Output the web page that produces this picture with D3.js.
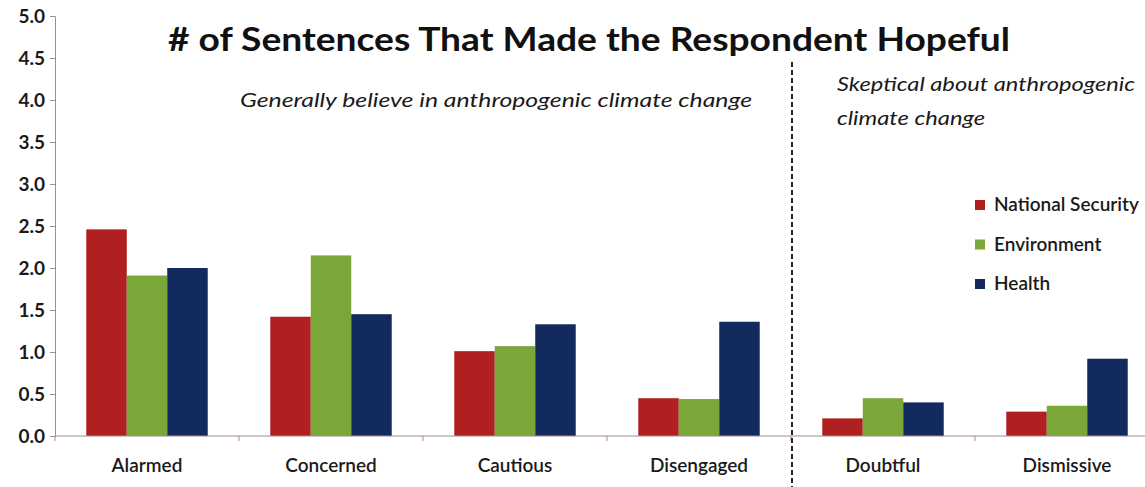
<!DOCTYPE html>
<html><head><meta charset="utf-8">
<script src="https://cdn.jsdelivr.net/npm/d3@7"></script>
<style>body{margin:0;background:#fff;} svg{display:block;font-family:Lato,"Open Sans",sans-serif;}</style>
</head><body>
<svg id="chart" width="1145" height="487"></svg>
<script>
const categories = ["Alarmed","Concerned","Cautious","Disengaged","Doubtful","Dismissive"];
const seriesNames = ["National Security","Environment","Health"];
const nationalSecurity = [2.46,1.42,1.01,0.45,0.21,0.29];
const environment = [1.91,2.15,1.07,0.44,0.45,0.36];
const health = [2.00,1.45,1.33,1.36,0.40,0.92];
const yTicks = [0,0.5,1,1.5,2,2.5,3,3.5,4,4.5,5];
const colors = ["#b02020","#7aa63a","#132a5e"];
const titleText = "# of Sentences That Made the Respondent Hopeful";
const groupBelieve = "Generally believe in anthropogenic climate change";
const groupSkeptic = ["Skeptical about anthropogenic","climate change"];

const values = [nationalSecurity, environment, health];
const svg = d3.select("#chart");
const axisColor = "#a88a8a";

const x0 = d3.scaleBand().domain(categories).range([55, 1159]).paddingInner(0.34).paddingOuter(0.17);
const x1 = d3.scaleBand().domain(seriesNames).range([0, x0.bandwidth()]);
const y = d3.scaleLinear().domain([0,5]).range([436,16]);

// bars
const g = svg.append("g");
categories.forEach((c, ci) => {
  seriesNames.forEach((s, si) => {
    g.append("rect")
      .attr("x", x0(c) + x1(s))
      .attr("y", y(values[si][ci]))
      .attr("width", x1.bandwidth())
      .attr("height", y(0) - y(values[si][ci]))
      .attr("fill", colors[si]);
  });
});

// y axis
const yAxis = svg.append("g").attr("transform","translate(55,0)")
  .call(d3.axisLeft(y).tickValues(yTicks).tickFormat(d3.format(".1f")).tickSize(5).tickPadding(5));
yAxis.select(".domain").attr("stroke", axisColor);
yAxis.selectAll(".tick line").attr("stroke", axisColor);
yAxis.selectAll("text").attr("font-size", 19).attr("font-weight", 700).attr("fill","#1a1a1a")
  .attr("font-family","Lato").attr("dy","0.36em");

// x axis
svg.append("line").attr("x1",55).attr("x2",1159).attr("y1",y(0)).attr("y2",y(0)).attr("stroke",axisColor);
const r0 = x0.range()[0];
d3.range(categories.length+1).forEach(i => {
  const xx = r0 + i*x0.step();
  svg.append("line").attr("x1",xx).attr("x2",xx).attr("y1",y(0)).attr("y2",y(0)+5).attr("stroke",axisColor);
});
svg.selectAll(".xlab").data(categories).enter().append("text")
  .attr("x", d => x0(d) + x0.bandwidth()/2)
  .attr("y", 472)
  .attr("text-anchor","middle")
  .attr("font-size",19).attr("font-weight",600).attr("fill","#1a1a1a")
  .attr("font-family","Lato")
  .text(d => d);

// divider
svg.append("line").attr("x1",792).attr("x2",792).attr("y1",62).attr("y2",487)
  .attr("stroke","#222").attr("stroke-width",2).attr("stroke-dasharray","5,3");

// title
svg.append("text").attr("x",168).attr("y",51)
  .attr("font-size",33).attr("font-weight",700).attr("fill","#111")
  .attr("font-family","Lato")
  .attr("textLength",842).attr("lengthAdjust","spacingAndGlyphs")
  .text(titleText);

svg.append("text").attr("x",240).attr("y",107)
  .attr("font-size",20).attr("font-style","italic").attr("fill","#1a1a1a")
  .attr("font-family","Lato")
  .attr("textLength",512).attr("lengthAdjust","spacingAndGlyphs")
  .text(groupBelieve);
svg.append("text").attr("x",837).attr("y",91)
  .attr("font-size",20).attr("font-style","italic").attr("fill","#1a1a1a")
  .attr("font-family","Lato")
  .attr("textLength",298).attr("lengthAdjust","spacingAndGlyphs")
  .text(groupSkeptic[0]);
svg.append("text").attr("x",837).attr("y",125)
  .attr("font-size",20).attr("font-style","italic").attr("fill","#1a1a1a")
  .attr("font-family","Lato")
  .attr("textLength",148).attr("lengthAdjust","spacingAndGlyphs")
  .text(groupSkeptic[1]);

// legend
const leg = svg.append("g");
seriesNames.forEach((s, i) => {
  const cy = 205 + i*39.5;
  leg.append("rect").attr("x",975).attr("y",cy-5).attr("width",10).attr("height",10).attr("fill",colors[i]);
  leg.append("text").attr("x",994).attr("y",cy+6)
    .attr("font-size",19).attr("font-weight",600).attr("fill","#1a1a1a")
    .attr("font-family","Lato")
    .text(s);
});
</script>
</body></html>
